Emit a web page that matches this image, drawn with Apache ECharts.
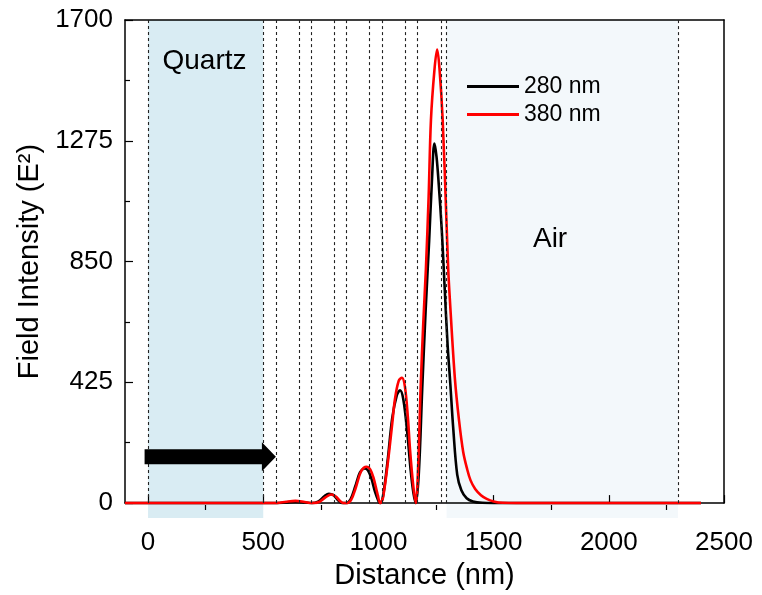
<!DOCTYPE html>
<html>
<head>
<meta charset="utf-8">
<script src="https://cdn.jsdelivr.net/npm/echarts@6/dist/echarts.min.js"></script>
<style>
  html, body { margin: 0; padding: 0; background: #fff; }
  #chart { width: 762px; height: 595px; }
</style>
</head>
<body>
<div id="chart"></div>
<script>
// 280 nm (black)
var blackX = [-100, 0, 500, 560, 600, 640, 680, 710, 740, 765, 785, 805, 825, 842, 860, 880, 900, 920, 940, 955, 970, 985, 1000, 1008, 1020, 1040, 1060, 1080, 1094, 1108, 1125, 1140, 1152, 1162, 1175, 1190, 1205, 1220, 1232, 1243, 1252, 1262, 1275, 1288, 1300, 1312, 1325, 1342, 1360, 1383, 1410, 1450, 1500, 2400];
var blackY = [0, 0, 0, 0, 2, 4, 2, 0, 6, 24, 33, 28, 10, 0, 0, 15, 60, 108, 122, 115, 85, 40, 8, 0, 25, 150, 300, 380, 397, 365, 250, 115, 35, 0, 100, 400, 680, 920, 1130, 1265, 1220, 1120, 960, 750, 560, 420, 260, 100, 45, 17, 6, 1, 0, 0];
// 380 nm (red)
var redX = [-100, 0, 500, 560, 600, 640, 680, 712, 745, 770, 795, 815, 835, 848, 865, 882, 902, 925, 948, 965, 980, 995, 1008, 1020, 1043, 1060, 1072, 1088, 1102, 1115, 1128, 1137, 1150, 1162, 1172, 1183, 1195, 1206, 1218, 1228, 1243, 1255, 1265, 1279, 1295, 1303, 1310, 1332, 1350, 1368, 1385, 1400, 1420, 1445, 1470, 1500, 1540, 1600, 2400];
var redY = [0, 0, 0, 0, 5, 8, 4, 0, 5, 20, 30, 23, 6, 0, 0, 12, 55, 112, 128, 118, 85, 35, 0, 20, 157, 280, 367, 430, 441, 410, 300, 190, 70, 0, 120, 400, 640, 823, 1080, 1348, 1523, 1596, 1530, 1348, 1000, 823, 718, 437, 290, 180, 120, 80, 50, 28, 15, 6, 1, 0, 0];

// layer boundaries (dashed lines)
var layerEdges = [0, 500, 555, 655, 707, 808, 862, 962, 1015, 1117, 1170, 1271, 1296, 2300];
var quartzRange = [0, 500];
var airRange = [1296, 2300];

var xTicks = [0, 500, 1000, 1500, 2000, 2500];
var xMinorTicks = [250, 750, 1250, 1750, 2250];

var font = 'Liberation Sans, Arial, sans-serif';

function zip(xs, ys) {
  return xs.map(function (x, i) { return [x, ys[i]]; });
}
function plain(v) { return String(v); }

var chart = echarts.init(document.getElementById('chart'));

var option = {
  animation: false,
  backgroundColor: '#fff',
  textStyle: { fontFamily: font },
  grid: [
    { left: 125, right: 38, top: 20, bottom: 90 },
    { left: 125, right: 38, top: 20, bottom: 90 }
  ],
  legend: {
    data: ['280 nm', '380 nm'],
    orient: 'vertical',
    left: 462,
    top: 70,
    icon: 'rect',
    itemWidth: 52,
    itemHeight: 3,
    itemGap: 5,
    textStyle: { fontSize: 23, color: '#000', fontFamily: font }
  },
  xAxis: [
    {
      type: 'value', gridIndex: 0, position: 'bottom',
      min: -100, max: 2500,
      name: 'Distance (nm)', nameLocation: 'middle', nameGap: 55,
      nameTextStyle: { fontSize: 29, color: '#000', fontFamily: font },
      axisLine: { onZero: false, lineStyle: { color: '#000', width: 1.5 } },
      axisTick: { inside: true, length: 8, customValues: xTicks, lineStyle: { color: '#000', width: 1.2 } },
      axisLabel: { customValues: xTicks, formatter: plain, fontSize: 26, color: '#000', margin: 27, fontFamily: font },
      splitLine: { show: false }
    },
    {
      type: 'value', gridIndex: 0, position: 'top',
      min: -100, max: 2500,
      axisLine: { onZero: false, lineStyle: { color: '#000', width: 1.5 } },
      axisTick: { show: false },
      axisLabel: { show: false },
      splitLine: { show: false }
    },
    {
      type: 'value', gridIndex: 1, position: 'bottom',
      min: -100, max: 2500,
      axisLine: { show: false, onZero: false },
      axisTick: { inside: false, length: 5, customValues: xMinorTicks, lineStyle: { color: '#000', width: 1.2 } },
      axisLabel: { show: false },
      splitLine: { show: false }
    }
  ],
  yAxis: [
    {
      type: 'value', gridIndex: 0, position: 'left',
      min: 0, max: 1700, interval: 425,
      name: 'Field Intensity (E²)', nameLocation: 'middle', nameGap: 79,
      nameTextStyle: { fontSize: 29, color: '#000', fontFamily: font },
      axisLine: { onZero: false, lineStyle: { color: '#000', width: 1.5 } },
      axisTick: { inside: true, length: 8, lineStyle: { color: '#000', width: 1.2 } },
      minorTick: { show: true, splitNumber: 2, length: 5, lineStyle: { color: '#000', width: 1.2 } },
      axisLabel: { formatter: plain, fontSize: 26, color: '#000', margin: 12, fontFamily: font },
      splitLine: { show: false }
    },
    {
      type: 'value', gridIndex: 0, position: 'right',
      min: 0, max: 1700,
      axisLine: { show: true, onZero: false, lineStyle: { color: '#000', width: 1.5 } },
      axisTick: { show: false },
      axisLabel: { show: false },
      splitLine: { show: false }
    },
    {
      type: 'value', gridIndex: 1, min: 0, max: 1700,
      axisLine: { show: false }, axisTick: { show: false },
      axisLabel: { show: false }, splitLine: { show: false }
    }
  ],
  series: [
    {
      name: 'layers', type: 'line', xAxisIndex: 0, yAxisIndex: 0, data: [],
      z: 1, silent: true,
      markLine: {
        silent: true, symbol: ['none', 'none'], label: { show: false },
        lineStyle: { type: [3, 3], color: '#222', width: 1.1 },
        data: layerEdges.map(function (x) { return { xAxis: x }; })
      }
    },
    {
      name: '280 nm', type: 'line', xAxisIndex: 0, yAxisIndex: 0,
      data: zip(blackX, blackY),
      symbol: 'none', smooth: 0.35, z: 3,
      color: '#000',
      lineStyle: { color: '#000', width: 2.6 }
    },
    {
      name: '380 nm', type: 'line', xAxisIndex: 0, yAxisIndex: 0,
      data: zip(redX, redY),
      symbol: 'none', smooth: 0.35, z: 4,
      color: '#ff0000',
      lineStyle: { color: '#ff0000', width: 2.6 }
    }
  ]
};

chart.setOption(option);

// shaded regions, labels and arrow placed through the axis scales
function px(x, y) {
  return chart.convertToPixel({ xAxisIndex: 0, yAxisIndex: 0 }, [x, y]);
}
var topY = px(0, 1700)[1];
var botY = px(0, 0)[1] + 15;

function shade(range, color) {
  var a = px(range[0], 0)[0], b = px(range[1], 0)[0];
  return { type: 'rect', z: -1, silent: true, shape: { x: a, y: topY, width: b - a, height: botY - topY }, style: { fill: color } };
}

var arrowStart = px(-15, 163), arrowEnd = px(555, 163);
var headLen = 14, shaftHalf = 7.5, headHalf = 14.5;
var ax0 = arrowStart[0], ax1 = arrowEnd[0], ay = arrowStart[1];

var quartzPos = px(245, 1555);
var airPos = px(1745, 930);

chart.setOption({
  graphic: [
    shade(quartzRange, '#d9ecf3'),
    shade(airRange, '#f3f8fb'),
    {
      type: 'polygon', z: 10, silent: true,
      shape: { points: [
        [ax0, ay - shaftHalf], [ax1 - headLen, ay - shaftHalf], [ax1 - headLen, ay - headHalf],
        [ax1, ay], [ax1 - headLen, ay + headHalf], [ax1 - headLen, ay + shaftHalf], [ax0, ay + shaftHalf]
      ] },
      style: { fill: '#000' }
    },
    {
      type: 'text', z: 10, silent: true, x: quartzPos[0], y: quartzPos[1],
      style: { text: 'Quartz', fontSize: 28, fill: '#000', fontFamily: font, align: 'center', verticalAlign: 'middle' }
    },
    {
      type: 'text', z: 10, silent: true, x: airPos[0], y: airPos[1],
      style: { text: 'Air', fontSize: 28, fill: '#000', fontFamily: font, align: 'center', verticalAlign: 'middle' }
    }
  ]
});
</script>
</body>
</html>
